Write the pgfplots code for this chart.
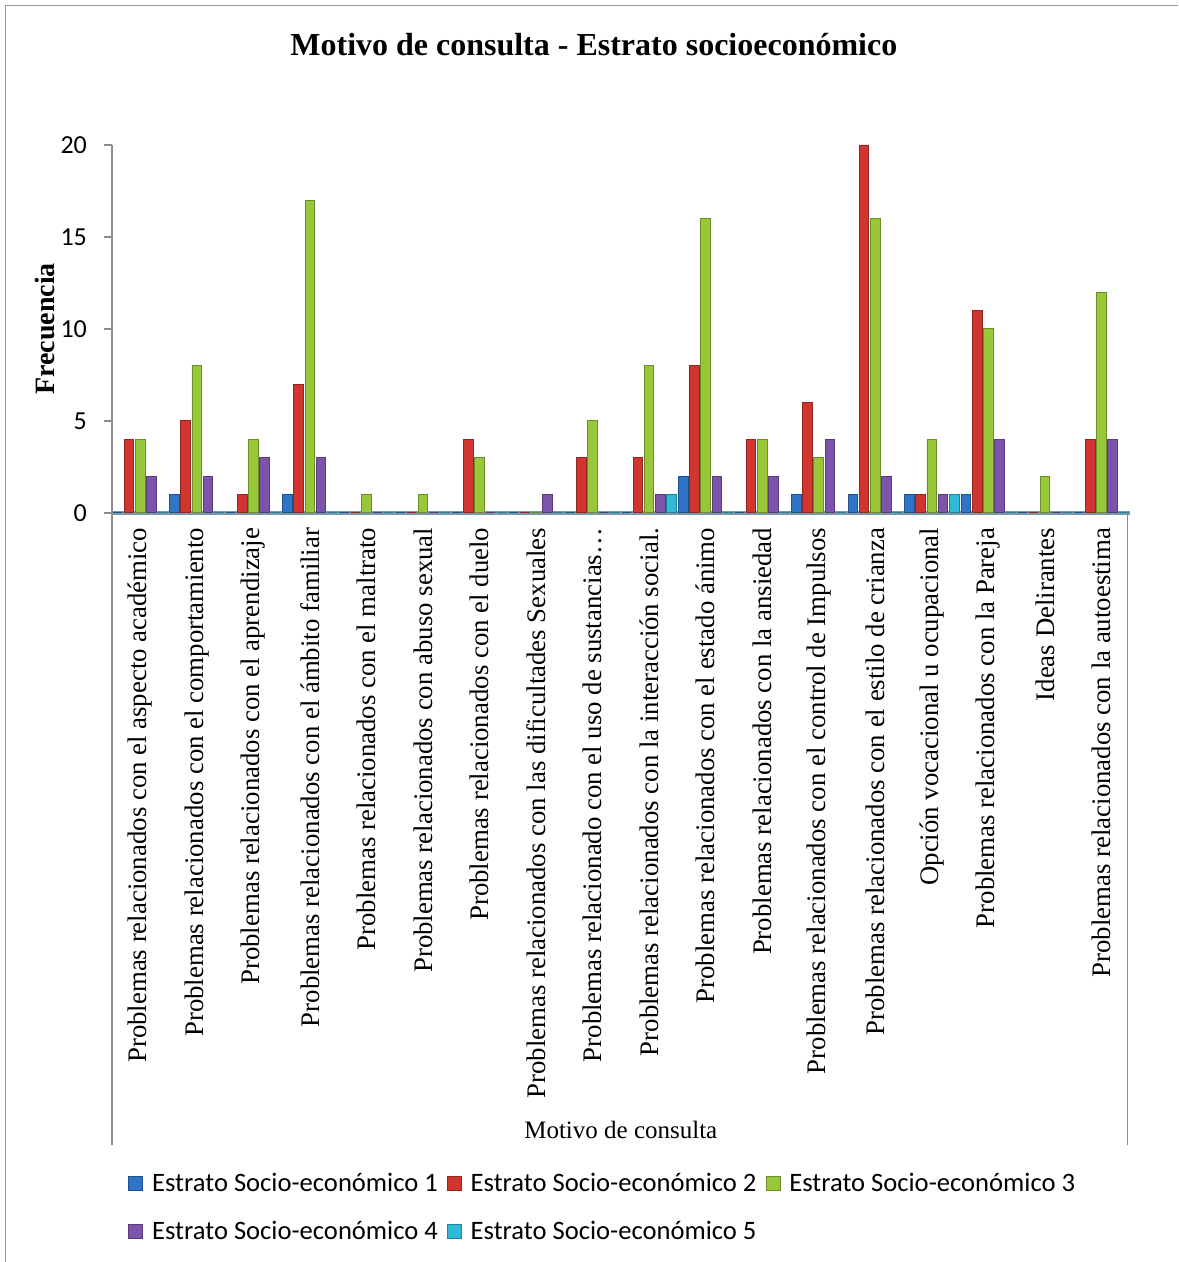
\documentclass[border=0pt]{standalone}
\usepackage{fontspec}
\setmainfont{Liberation Serif}
\newfontfamily\calibri{Carlito}
\usepackage{pgfplots}
\usepackage{pgfplotstable}
\pgfplotsset{compat=1.18}

\definecolor{c1}{HTML}{2F74C6}
\definecolor{c2}{HTML}{D0362F}
\definecolor{c3}{HTML}{98C83A}
\definecolor{c4}{HTML}{7C55AA}
\definecolor{c5}{HTML}{2FB9D8}
\definecolor{floor}{HTML}{7A98A8}

% motivo de consulta x estrato socioeconomico (1..5)
\pgfplotstableread{
x e1 e2 e3 e4 e5
0 0 4 4 2 0
1 1 5 8 2 0
2 0 1 4 3 0
3 1 7 17 3 0
4 0 0 1 0 0
5 0 0 1 0 0
6 0 4 3 0 0
7 0 0 0 1 0
8 0 3 5 0 0
9 0 3 8 1 1
10 2 8 16 2 0
11 0 4 4 2 0
12 1 6 3 4 0
13 1 20 16 2 0
14 1 1 4 1 1
15 1 11 10 4 0
16 0 0 2 0 0
17 0 4 12 4 0
}\datatable

\tikzset{cyl/.style={fill=#1, draw=#1!70!black, line width=0.4pt}}

\begin{document}
\begin{tikzpicture}
\path (0,0) rectangle (589pt,631pt);
\draw[gray!80] (2.5pt,0) -- (2.5pt,628.5pt) -- (589pt,628.5pt);
\begin{axis}[
    at={(56pt,374.5pt)}, anchor=south west,
    scale only axis, clip=false,
    width=509pt, height=184pt,
    ybar=0.8pt, bar width=4.8pt,
    xmin=-0.5, xmax=17.5,
    ymin=0, ymax=20,
    ytick={0,5,10,15,20},
    xtick=data,
    xticklabels={
        {Problemas relacionados con el aspecto académico},
        {Problemas relacionados con el comportamiento},
        {Problemas relacionados con el aprendizaje},
        {Problemas relacionados con el ámbito familiar},
        {Problemas relacionados con el maltrato},
        {Problemas relacionados con abuso sexual},
        {Problemas relacionados con el duelo},
        {Problemas relacionados con las dificultades Sexuales},
        {Problemas relacionado con el uso de sustancias\ldots},
        {Problemas relacionados con la interacción social.},
        {Problemas relacionados con el estado ánimo},
        {Problemas relacionados con la ansiedad},
        {Problemas relacionados con el control de Impulsos},
        {Problemas relacionados con el estilo de crianza},
        {Opción vocacional u ocupacional},
        {Problemas relacionados con la Pareja},
        {Ideas Delirantes},
        {Problemas relacionados con la autoestima}},
    xticklabel style={rotate=90, anchor=east, font=\fontsize{13.4}{14}\selectfont},
    x tick style={draw=none},
    axis y line*=left, axis x line*=bottom,
    y axis line style={draw=gray!90, line width=0.8pt},
    x axis line style={draw=floor, line width=2pt},
    ytick style={draw=gray!90, line width=0.8pt},
    tick align=outside, major tick length=4pt,
    /pgf/number format/assume math mode=true,
    yticklabel style={font=\calibri\fontsize{13}{13}\selectfont, xshift=-5pt},
    ylabel={\textbf{Frecuencia}},
    ylabel style={font=\fontsize{14}{14}\selectfont, at={(axis description cs:-0.0658,0.5)}, anchor=center},
    title={\textbf{Motivo de consulta - Estrato socioeconómico}},
    title style={font=\fontsize{16}{16}\selectfont, at={(axis description cs:0.4735,1)}, anchor=center, yshift=44pt},
    legend columns=3,
    legend style={draw=none, font=\calibri\fontsize{13.3}{15}\selectfont,
        at={(axis description cs:0.0157,-1.782)}, anchor=north west,
        column sep=1.5pt, row sep=9.5pt, inner sep=0pt, nodes={inner xsep=3pt}},
    legend cell align=left,
    legend image code/.code={\path[#1] (0pt,-3.5pt) rectangle (7pt,3.5pt);},
]
\addplot[cyl=c1] table[x=x, y=e1] {\datatable};
\addplot[cyl=c2] table[x=x, y=e2] {\datatable};
\addplot[cyl=c3] table[x=x, y=e3] {\datatable};
\addplot[cyl=c4] table[x=x, y=e4] {\datatable};
\addplot[cyl=c5] table[x=x, y=e5] {\datatable};
\legend{Estrato Socio-económico 1, Estrato Socio-económico 2, Estrato Socio-económico 3, Estrato Socio-económico 4, Estrato Socio-económico 5}
\draw[gray!90, line width=0.8pt] (rel axis cs:0,0) -- (rel axis cs:0,-1.7174);
\draw[gray!90, line width=0.8pt] (rel axis cs:0.998,0) -- (rel axis cs:0.998,-1.7174);
\node[font=\fontsize{12.5}{13}\selectfont] at (rel axis cs:0.5,-1.6766) {Motivo de consulta};
\end{axis}
\end{tikzpicture}
\end{document}
